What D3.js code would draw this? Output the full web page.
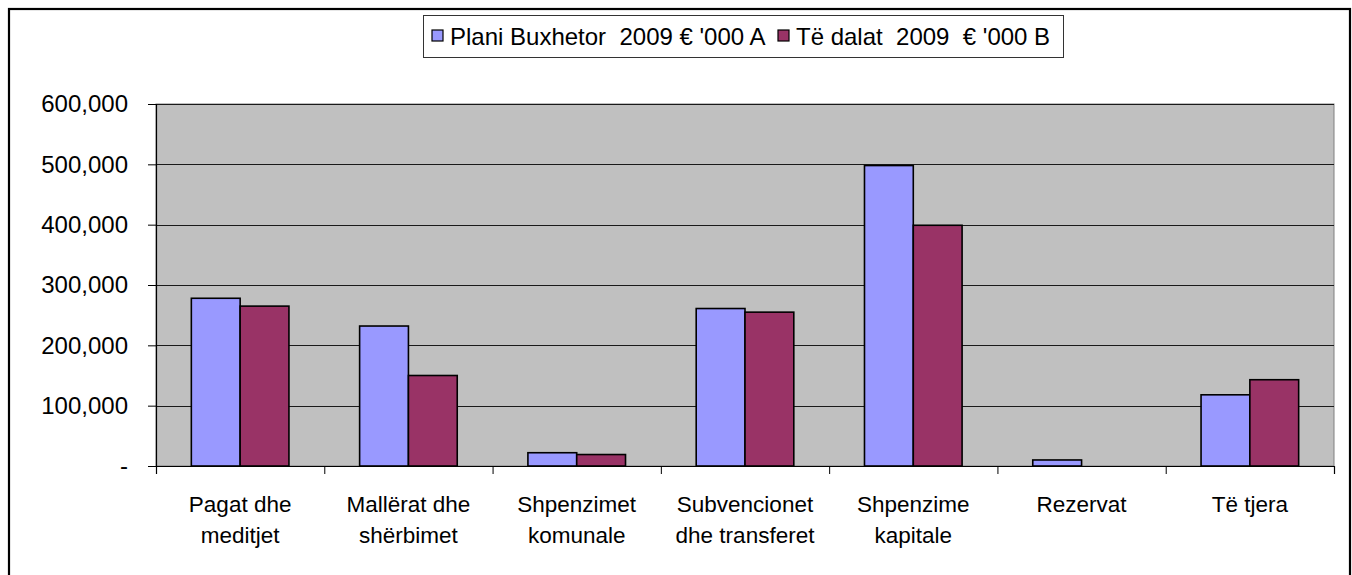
<!DOCTYPE html>
<html>
<head>
<meta charset="utf-8">
<script src="https://cdn.jsdelivr.net/npm/d3@7"></script>
<style>
  html, body { margin: 0; padding: 0; background: #fff; }
  svg { display: block; }
  text { font-family: "Liberation Sans", Arial, sans-serif; fill: #000; }
</style>
</head>
<body>
<svg id="chart" width="1352" height="575"></svg>
<script>
const categories = [
  ["Pagat dhe", "meditjet"],
  ["Mallërat dhe", "shërbimet"],
  ["Shpenzimet", "komunale"],
  ["Subvencionet", "dhe transferet"],
  ["Shpenzime", "kapitale"],
  ["Rezervat"],
  ["Të tjera"]
];
const seriesNames = ["Plani Buxhetor  2009 € '000 A", "Të dalat  2009  € '000 B"];
const planValues = [278000, 232000, 22000, 261000, 498000, 10000, 118000];
const actualValues = [265000, 150000, 19000, 255000, 399000, 0, 143000];
const tickValues = [0, 100000, 200000, 300000, 400000, 500000, 600000];
const tickLabels = ["-", "100,000", "200,000", "300,000", "400,000", "500,000", "600,000"];
const colors = ["#9999FF", "#993366"];

const svg = d3.select("#chart");
const plot = { left: 156, right: 1334, top: 104, bottom: 466 };

// outer frame
svg.append("rect").attr("x", 9).attr("y", 9).attr("width", 1341).attr("height", 600)
  .attr("fill", "none").attr("stroke", "#000").attr("stroke-width", 2.2);

const x0 = d3.scaleBand().domain(d3.range(categories.length))
  .range([plot.left, plot.right]).paddingInner(0).paddingOuter(0);
const groupW = x0.bandwidth() * 0.58;
const x1 = d3.scaleBand().domain([0, 1]).range([0, groupW]).padding(0);
const y = d3.scaleLinear().domain([0, 600000]).range([plot.bottom, plot.top]);

// plot background
svg.append("rect").attr("x", plot.left).attr("y", plot.top)
  .attr("width", plot.right - plot.left).attr("height", plot.bottom - plot.top)
  .attr("fill", "#C0C0C0").attr("stroke", "#808080").attr("stroke-width", 1);

// gridlines
svg.append("g").selectAll("line").data(tickValues.slice(1)).join("line")
  .attr("x1", plot.left).attr("x2", plot.right)
  .attr("y1", d => Math.round(y(d)) + 0.5).attr("y2", d => Math.round(y(d)) + 0.5)
  .attr("stroke", "#1a1a1a").attr("stroke-width", 1);

// bars
const groups = svg.append("g").selectAll("g").data(categories.map((c, i) => i)).join("g")
  .attr("transform", i => `translate(${x0(i) + (x0.bandwidth() - groupW) / 2},0)`);
groups.selectAll("rect").data(i => [planValues[i], actualValues[i]].map((v, s) => ({ v, s })))
  .join("rect")
  .filter(d => d.v > 0)
  .attr("x", d => x1(d.s)).attr("width", x1.bandwidth())
  .attr("y", d => y(d.v)).attr("height", d => y(0) - y(d.v))
  .attr("fill", d => colors[d.s]).attr("stroke", "#000").attr("stroke-width", 1.6);

// y axis
const yAxis = d3.axisLeft(y).tickValues(tickValues).tickSize(8)
  .tickFormat((d, i) => tickLabels[i]).tickPadding(20);
const ya = svg.append("g").attr("transform", `translate(${plot.left},0)`).call(yAxis);
ya.select(".domain").attr("stroke", "#000").attr("stroke-width", 1.2);
ya.selectAll(".tick line").attr("stroke", "#000");
ya.selectAll(".tick text").attr("font-size", 24).attr("font-family", "Liberation Sans, Arial, sans-serif").attr("fill", "#000");

// x axis
const xAxisScale = d3.scaleLinear().domain([0, categories.length]).range([plot.left, plot.right]);
const xa = svg.append("g").attr("transform", `translate(0,${plot.bottom})`)
  .call(d3.axisBottom(xAxisScale).ticks(categories.length).tickSize(8).tickFormat(""));
xa.select(".domain").attr("stroke", "#000").attr("stroke-width", 1.2);
xa.selectAll(".tick line").attr("stroke", "#000");

// category labels
const lab = svg.append("g").selectAll("text").data(categories).join("text")
  .attr("text-anchor", "middle").attr("font-size", 22.5)
  .attr("x", (d, i) => x0(i) + x0.bandwidth() / 2).attr("y", 512);
lab.selectAll("tspan").data(d => d).join("tspan")
  .attr("x", function () { return this.parentNode.getAttribute("x"); })
  .attr("dy", (d, i) => i === 0 ? 0 : 31).text(d => d);

// legend
const lg = svg.append("g");
lg.append("rect").attr("x", 423.5).attr("y", 15.5).attr("width", 640).attr("height", 42)
  .attr("fill", "#fff").attr("stroke", "#333").attr("stroke-width", 1);
const legendX = [432, 778];
seriesNames.forEach((n, i) => {
  lg.append("rect").attr("x", legendX[i]).attr("y", 30).attr("width", 11).attr("height", 11)
    .attr("fill", colors[i]).attr("stroke", "#000").attr("stroke-width", 1.2);
  lg.append("text").attr("x", legendX[i] + 18).attr("y", 45).attr("font-size", 24)
    .attr("xml:space", "preserve").style("white-space", "pre").text(n);
});
</script>
</body>
</html>
